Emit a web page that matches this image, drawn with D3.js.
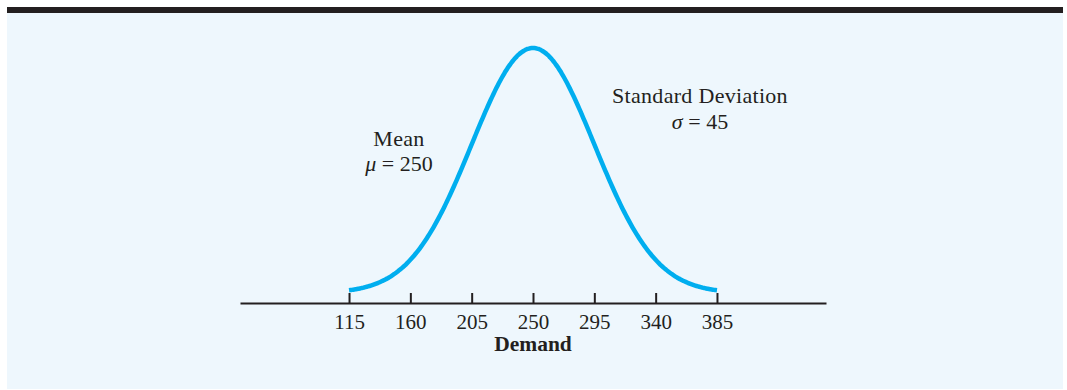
<!DOCTYPE html>
<html>
<head>
<meta charset="utf-8">
<script src="https://cdn.jsdelivr.net/npm/d3@7"></script>
<style>
  body { margin: 0; background: #ffffff; }
  text { font-family: "Liberation Serif", "Times New Roman", serif; fill: #231f20; }
</style>
</head>
<body>
<div id="chart"></div>
<script>
// Datos del gráfico
const mean = [250];
const stdDev = [45];
const tickValues = [115, 160, 205, 250, 295, 340, 385];
const axisTitle = ["Demand"];
const meanLabels = ["Mean", "μ", " = 250"];
const sdLabels = ["Standard Deviation", "σ", " = 45"];

const width = 1067;
const height = 390;

const svg = d3.select("#chart")
    .append("svg")
    .attr("width", width)
    .attr("height", height);

// Barra superior y fondo
svg.append("rect")
    .attr("x", 7).attr("y", 7)
    .attr("width", 1056).attr("height", 6)
    .attr("fill", "#231f20");

svg.append("rect")
    .attr("x", 7).attr("y", 13)
    .attr("width", 1056).attr("height", 376)
    .attr("fill", "#eef7fd");

// Escalas
const x = d3.scaleLinear().domain([35, 465]).range([240, 826]);

const mu = mean[0], sigma = stdDev[0];
const pdf = v => Math.exp(-0.5 * ((v - mu) / sigma) ** 2) / (sigma * Math.sqrt(2 * Math.PI));

const y = d3.scaleLinear().domain([0, pdf(mu)]).range([293, 48]);

// Curva normal entre los extremos de los ticks
const curvePts = d3.range(tickValues[0], tickValues[tickValues.length - 1] + 0.5, 1)
    .map(v => [v, pdf(v)]);

svg.append("path")
    .datum(curvePts)
    .attr("fill", "none")
    .attr("stroke", "#00aeef")
    .attr("stroke-width", 4.5)
    .attr("d", d3.line().x(d => x(d[0])).y(d => y(d[1])).curve(d3.curveBasis));

// Eje
const axis = d3.axisBottom(x)
    .tickValues(tickValues)
    .tickSizeInner(-10)
    .tickSizeOuter(0)
    .tickPadding(11);

const gAxis = svg.append("g")
    .attr("transform", "translate(0,303)")
    .call(axis);

gAxis.select(".domain").attr("stroke", "#231f20").attr("stroke-width", 2);
gAxis.selectAll(".tick line").attr("stroke", "#231f20").attr("stroke-width", 2);
gAxis.selectAll(".tick text")
    .attr("font-family", "Liberation Serif, Times New Roman, serif")
    .attr("font-size", 21)
    .attr("fill", "#231f20");

svg.append("text")
    .attr("x", x(mu))
    .attr("y", 351)
    .attr("text-anchor", "middle")
    .attr("font-size", 21.5)
    .attr("font-weight", "bold")
    .text(axisTitle[0]);

// Anotaciones
function annotate(labels, cx, y1, y2) {
    svg.append("text")
        .attr("x", cx).attr("y", y1)
        .attr("text-anchor", "middle")
        .attr("font-size", 22)
        .attr("letter-spacing", 0.3)
        .text(labels[0]);
    const t = svg.append("text")
        .attr("x", cx).attr("y", y2)
        .attr("text-anchor", "middle")
        .attr("font-size", 22);
    t.append("tspan").attr("font-style", "italic").text(labels[1]);
    t.append("tspan").text(labels[2]);
}

annotate(meanLabels, 399, 146, 171);
annotate(sdLabels, 700, 103, 129);
</script>
</body>
</html>
